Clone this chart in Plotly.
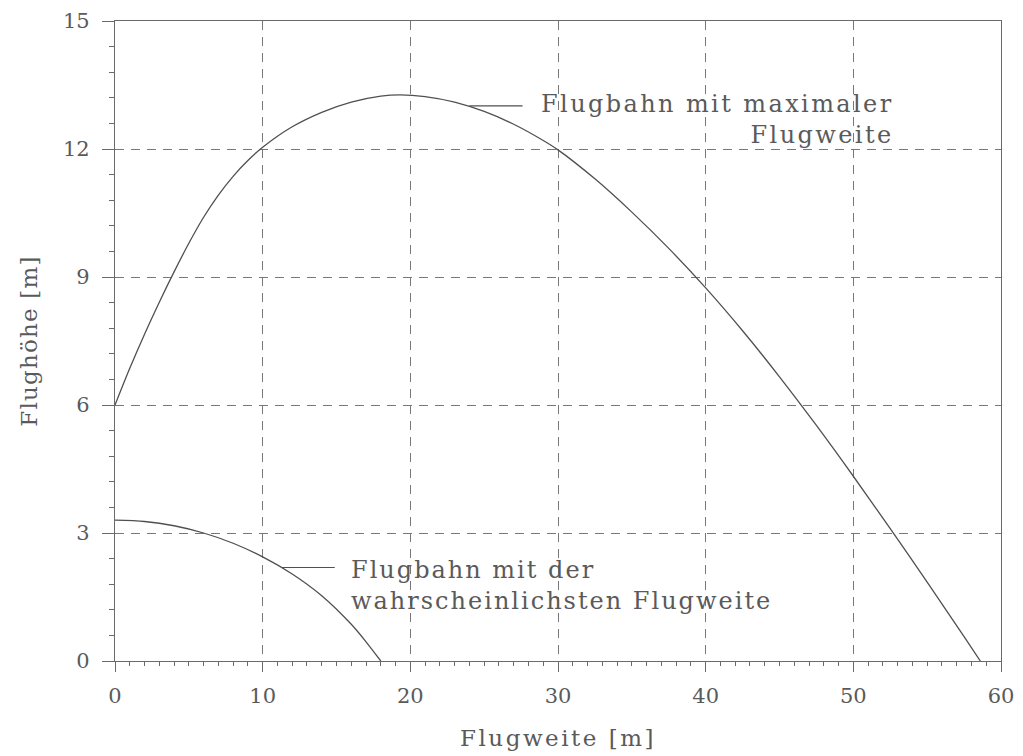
import plotly.graph_objects as go

# Flugbahn mit maximaler Flugweite
upper_x = [0, 1, 2, 3, 4, 5, 6, 7, 8, 9, 10, 12, 14, 16, 18, 19.3, 21, 23, 25, 27,
           29, 30, 32.5, 35, 37.5, 40, 42.5, 45, 47.5, 50, 52.5, 55, 57.5, 58.6]
upper_y = [6.0, 6.86, 7.66, 8.41, 9.12, 9.79, 10.40, 10.92, 11.36, 11.73, 12.04, 12.52,
           12.86, 13.1, 13.24, 13.27, 13.23, 13.1, 12.88, 12.58, 12.2, 11.98, 11.30,
           10.52, 9.67, 8.745, 7.74, 6.66, 5.52, 4.33, 3.10, 1.85, 0.57, 0.0]

# Flugbahn mit der wahrscheinlichsten Flugweite
lower_x = [0, 2, 4, 6, 8, 10, 12, 14, 16, 17, 18.0]
lower_y = [3.30, 3.27, 3.17, 3.0, 2.76, 2.44, 2.04, 1.53, 0.86, 0.45, 0.0]

# label leader lines and label anchors
upper_leader_x = [24.0, 27.6]
upper_leader_y = [13.01, 13.01]
lower_leader_x = [11.28, 14.88]
lower_leader_y = [2.19, 2.19]
upper_label = ["Flugbahn mit maximaler", "Flugweite"]
lower_label = ["Flugbahn mit der", "wahrscheinlichsten Flugweite"]
upper_label_pos = (52.9, 12.68)
lower_label_pos = (15.85, 1.78)
x_title = "Flugweite [m]"
y_title = "Flughöhe [m]"

x_ticks = [0, 10, 20, 30, 40, 50, 60]
y_ticks = [0, 3, 6, 9, 12, 15]

FONT = "DejaVu Serif"
LINE = "#6a6a6a"
TEXT = "#5a5a5a"
CURVE = "#505050"


def spaced(lines, px):
    return "<br>".join(f'<span style="letter-spacing:{px}px">{s}</span>' for s in lines)


fig = go.Figure()
for xs, ys in ((upper_x, upper_y), (lower_x, lower_y)):
    fig.add_trace(go.Scatter(x=xs, y=ys, mode="lines",
                             line=dict(color=CURVE, width=1.3, shape="spline", smoothing=0.8),
                             hoverinfo="skip"))
for xs, ys in ((upper_leader_x, upper_leader_y), (lower_leader_x, lower_leader_y)):
    fig.add_trace(go.Scatter(x=xs, y=ys, mode="lines",
                             line=dict(color=CURVE, width=1.1), hoverinfo="skip"))

fig.add_annotation(x=upper_label_pos[0], y=upper_label_pos[1], text=spaced(upper_label, 2.4),
                   showarrow=False, xanchor="right", yanchor="middle", align="right",
                   font=dict(family=FONT, size=24, color=TEXT))
fig.add_annotation(x=lower_label_pos[0], y=lower_label_pos[1], text=spaced(lower_label, 2.0),
                   showarrow=False, xanchor="left", yanchor="middle", align="left",
                   font=dict(family=FONT, size=24, color=TEXT))

axis_common = dict(
    showline=True, linecolor=LINE, linewidth=1.3, mirror=True,
    ticks="outside", tickcolor=LINE, tickwidth=1.2,
    showgrid=True, gridcolor="#777777", gridwidth=1.1, griddash="9px,7px",
    zeroline=False, automargin=False,
    tickfont=dict(family=FONT, size=21, color=TEXT),
)

fig.update_xaxes(**axis_common, range=[0, 60], tickvals=x_ticks, ticklen=10,
                 ticklabelstandoff=6,
                 minor=dict(dtick=1, ticks="outside", ticklen=4, tickcolor=LINE,
                            tickwidth=1, showgrid=False),
                 title=dict(text=spaced([x_title], 2.5), standoff=22,
                            font=dict(family=FONT, size=23, color=TEXT)))
fig.update_yaxes(**axis_common, range=[0, 15], tickvals=y_ticks, ticklen=12,
                 ticklabelstandoff=8,
                 minor=dict(dtick=0.6, ticks="outside", ticklen=5, tickcolor=LINE,
                            tickwidth=1, showgrid=False),
                 title=dict(text=spaced([y_title], 1.2), standoff=18,
                            font=dict(family=FONT, size=23, color=TEXT)))

fig.update_layout(
    width=1023, height=756,
    margin=dict(l=115, r=22, t=21, b=95),
    paper_bgcolor="white", plot_bgcolor="white",
    showlegend=False,
)

fig.write_html("out.html")
